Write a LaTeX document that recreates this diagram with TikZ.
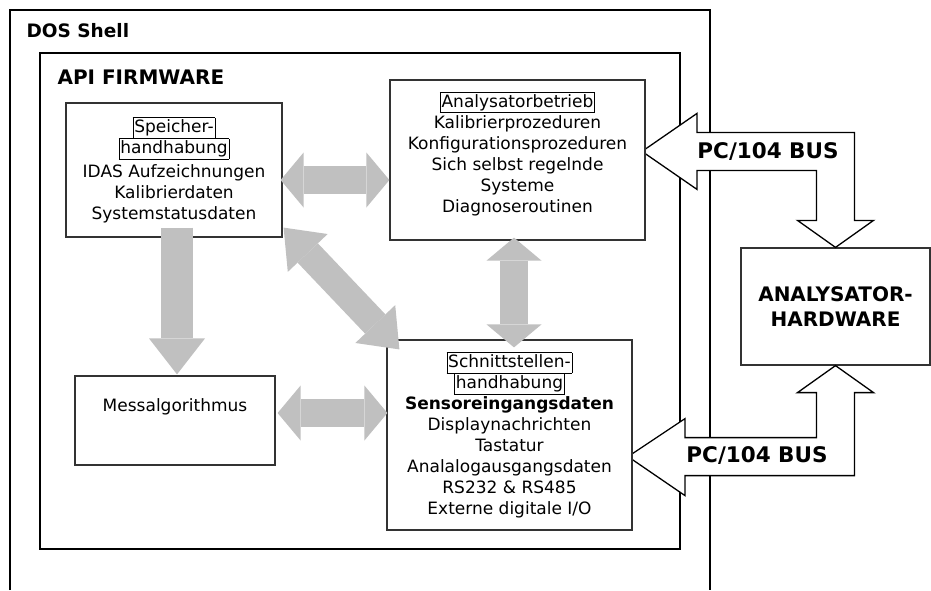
\documentclass[tikz,border=0pt]{standalone}
\usepackage{fontspec}
\setmainfont{DejaVu Sans}
\usetikzlibrary{arrows.meta}
\definecolor{ink}{HTML}{333333}
\definecolor{flow}{HTML}{C0C0C0}
% framed heading line inside a box
\newcommand{\hd}[1]{\fbox{\rule[-4.3pt]{0pt}{17.6pt}#1}}
\setlength{\fboxsep}{1pt}
\setlength{\fboxrule}{0.7pt}

\begin{document}
\begin{tikzpicture}[x=1pt, y=-1pt, font=\fontsize{17}{21}\selectfont,
  box/.style={draw=ink, line width=1.2pt, fill=white, align=center, inner sep=0pt},
  title/.style={font=\fontsize{20}{24}\selectfont\bfseries, align=center},
  bus/.style={draw=black, line width=1.3pt, fill=white},
  dbl/.style={flow, line width=28pt,
    {Triangle[length=#1, width=55pt, line width=0pt]}-{Triangle[length=#1, width=55pt, line width=0pt]}},
  dbl/.default=23pt
]
  \useasboundingbox (0,0) rectangle (931,590);

  % shell and firmware frames
  \draw[line width=2.5pt] (10,590) |- (710,10) -- (710,590);
  \draw[line width=2.2pt] (40,53) rectangle (680,549);
  \node[title, font=\fontsize{18.5}{22}\selectfont\bfseries, anchor=base west] (dos) at (23,37) {DOS Shell};
  \node[title, anchor=base west] (api) at (54,84) {API FIRMWARE};

  \node[box, minimum width=189pt, minimum height=117pt, font=\fontsize{20}{25}\selectfont\bfseries] (hw) at (835.5,306.5) {ANALYSATOR-\\HARDWARE};

  % PC/104 bus arrows
  \draw[bus] (hw.north) -- ++(38,-27) -- ++(-19,0) -- ++(0,-88) -- ++(-157.5,0) -- ++(0,-19)
    -- ++(-55,38) -- ++(55,38) -- ++(0,-19) -- ++(119.5,0) -- ++(0,50) -- ++(-19,0) -- cycle;
  \draw[bus] (hw.south) -- ++(38,27) -- ++(-19,0) -- ++(0,83) -- ++(-169.5,0) -- ++(0,20)
    -- ++(-57,-39) -- ++(57,-38) -- ++(0,19) -- ++(131.5,0) -- ++(0,-45) -- ++(-19,0) -- cycle;
  \node[title, font=\fontsize{21.5}{24}\selectfont\bfseries] (bus1) at (768,152) {PC/104 BUS};
  \node[title, font=\fontsize{21.5}{24}\selectfont\bfseries] (bus2) at (757,456) {PC/104 BUS};

  \node[box, minimum width=216pt, minimum height=134pt] (spe) at (174,170)
    {\hd{Speicher-}\\\hd{handhabung}\\[3pt]IDAS Aufzeichnungen\\Kalibrierdaten\\Systemstatusdaten};
  \node[box, minimum width=255pt, minimum height=160pt, text depth=16pt] (ana) at (517.5,160)
    {\hd{Analysatorbetrieb}\\Kalibrierprozeduren\\Konfigurationsprozeduren\\Sich selbst regelnde\\Systeme\\Diagnoseroutinen};
  \node[box, minimum width=245pt, minimum height=190pt] (ifc) at (509.5,435)
    {\hd{Schnittstellen-}\\\hd{handhabung}\\\textbf{Sensoreingangsdaten}\\Displaynachrichten\\Tastatur\\Analalogausgangsdaten\\RS232 \& RS485\\Externe digitale I/O};
  \node[box, minimum width=200pt, minimum height=89pt, text height=12pt, text depth=31pt] (alg) at (175,420.5) {Messalgorithmus};

  % data flow between the modules
  \draw[dbl] ([shift={(-2,10)}]spe.east) -- ([shift={(0,20)}]ana.west);
  \draw[dbl] ([shift={(-3.5,-3)}]ana.south) -- ([shift={(4.5,8)}]ifc.north);
  \draw[dbl] ([shift={(2,-7.5)}]alg.east) -- ([shift={(1,-22)}]ifc.west);
  \draw[dbl=35pt] ([shift={(1,-10)}]spe.south east) -- ([shift={(13,10)}]ifc.north west);
  \draw[flow, line width=32pt, -{Triangle[length=36pt, width=56pt, line width=0pt]}]
    ([shift={(3,-10)}]spe.south) -- ([shift={(2,-1)}]alg.north);
\end{tikzpicture}
\end{document}
